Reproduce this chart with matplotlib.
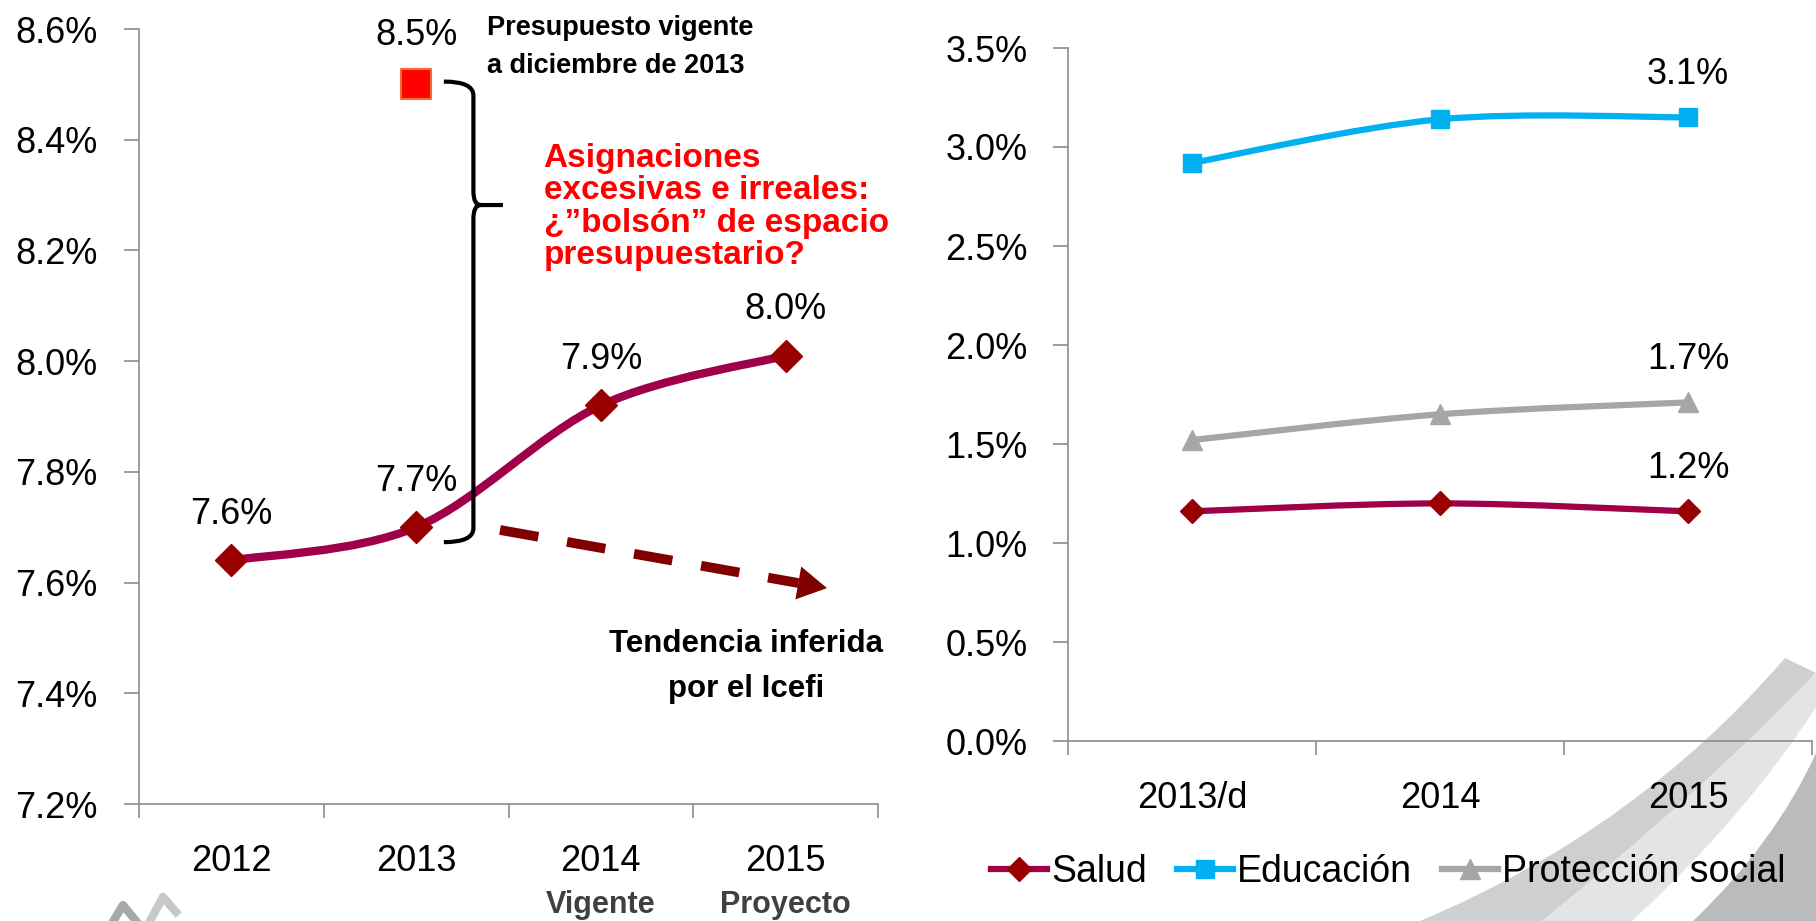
import matplotlib
matplotlib.use("Agg")
import matplotlib.pyplot as plt
from matplotlib.path import Path
from matplotlib.patches import PathPatch
from matplotlib.lines import Line2D
from matplotlib.ticker import FixedLocator, NullFormatter

plt.rcParams['font.family'] = ['Liberation Sans', 'DejaVu Sans']

# === Datos ===
anios_izq = ['2012', '2013', '2014', '2015']
sub_izq = ['', '', 'Vigente', 'Proyecto']
gasto_social = [7.64, 7.70, 7.92, 8.01]
etiquetas_izq = ['7.6%', '7.7%', '7.9%', '8.0%']
vigente_2013 = 8.50
etiqueta_vigente = '8.5%'

anios_der = ['2013/d', '2014', '2015']
series = ['Salud', 'Educación', 'Protección social']
salud = [1.16, 1.20, 1.16]
educacion = [2.92, 3.14, 3.15]
proteccion = [1.52, 1.65, 1.71]
etiquetas_der = ['1.2%', '3.1%', '1.7%']

COL_SALUD = '#A0004A'
COL_MARK = '#990000'
COL_EDU = '#00B0F0'
COL_PROT = '#A6A6A6'
GRIS_EJE = '#8C8C8C'
FS = 26

W, H = 1816, 921


def curva_suave(xs, ys):
    # curva tipo Excel (Catmull-Rom -> Bezier)
    n = len(xs)
    verts = [(xs[0], ys[0])]
    codes = [Path.MOVETO]
    for i in range(n - 1):
        a = i - 1 if i > 0 else i
        d = i + 2 if i + 2 < n else i + 1
        c1 = (xs[i] + (xs[i + 1] - xs[a]) / 6, ys[i] + (ys[i + 1] - ys[a]) / 6)
        c2 = (xs[i + 1] - (xs[d] - xs[i]) / 6, ys[i + 1] - (ys[d] - ys[i]) / 6)
        verts += [c1, c2, (xs[i + 1], ys[i + 1])]
        codes += [Path.CURVE4] * 3
    return Path(verts, codes)


def fig_px(x, y):
    return (x / W, 1 - y / H)


def estilo_ejes(ax, ncat):
    for s in ['top', 'right']:
        ax.spines[s].set_visible(False)
    for s in ['left', 'bottom']:
        ax.spines[s].set_color(GRIS_EJE)
        ax.spines[s].set_linewidth(1.2)
    ax.set_facecolor('none')
    ax.set_xlim(-0.5, ncat - 0.5)
    ax.xaxis.set_minor_locator(FixedLocator([k - 0.5 for k in range(ncat + 1)]))
    ax.xaxis.set_minor_formatter(NullFormatter())
    ax.tick_params(axis='x', which='major', length=0, labelsize=FS, pad=29)
    ax.tick_params(axis='x', which='minor', length=10, color=GRIS_EJE, width=1.2)
    ax.tick_params(axis='y', length=11, color=GRIS_EJE, width=1.2, labelsize=FS, pad=19)


def texto_lineas(ax, x, y0, dy, txt, **kw):
    # una línea por renglón, y0 = línea base del primer renglón
    for k, linea in enumerate(txt.split('\n')):
        ax.text(x, y0 - k * dy, linea, va='baseline', **kw)


fig = plt.figure(figsize=(W / 100, H / 100), dpi=100)

M, C3, L, CL = Path.MOVETO, Path.CURVE3, Path.LINETO, Path.CLOSEPOLY


# === Decoración gris (esquinas inferiores) ===
def banda(pts, codes, color):
    verts = [fig_px(*p) for p in pts]
    fig.patches.append(PathPatch(Path(verts, codes), transform=fig.transFigure,
                                 facecolor=color, edgecolor='none', zorder=-5))


banda([(1420, 921), (1637, 830), (1785, 658), (1816, 673), (1701, 793), (1542, 921), (1420, 921)],
      [M, C3, C3, L, C3, C3, CL], '#CFCFD1')
banda([(1816, 673), (1701, 793), (1542, 921), (1632, 921), (1746, 816), (1816, 707), (1816, 673)],
      [M, C3, C3, L, C3, C3, CL], '#E4E4E6')
banda([(1816, 753), (1775, 843), (1693, 921), (1816, 921), (1816, 753)],
      [M, C3, C3, L, CL], '#BBBBBD')
for xs_, ys_, c in [([108, 123, 136], [930, 905, 921], '#A8A8A8'),
                    ([150, 163, 176], [921, 897, 912], '#C8C8C8')]:
    fig.add_artist(Line2D([x / W for x in xs_], [1 - y / H for y in ys_],
                          transform=fig.transFigure, color=c, lw=6, zorder=-5))

# === Gráfica izquierda ===
ax1 = fig.add_axes([139 / W, 1 - 804 / H, (878 - 139) / W, (804 - 29) / H])
estilo_ejes(ax1, len(anios_izq))
ax1.set_ylim(7.2, 8.6)
ax1.set_yticks([7.2, 7.4, 7.6, 7.8, 8.0, 8.2, 8.4, 8.6])
ax1.set_yticklabels([f'{v:.1f}%' for v in ax1.get_yticks()])
x1 = list(range(len(anios_izq)))
ax1.set_xticks(x1)
ax1.set_xticklabels(anios_izq)

ax1.add_patch(PathPatch(curva_suave(x1, gasto_social), facecolor='none',
                        edgecolor=COL_SALUD, lw=6, capstyle='round', zorder=3))
ax1.plot(x1, gasto_social, ls='none', marker='D', ms=16, color=COL_MARK, zorder=4)
for xi, yi, t in zip(x1, gasto_social, etiquetas_izq):
    ax1.annotate(t, (xi, yi), xytext=(0, 26), textcoords='offset points',
                 ha='center', va='baseline', fontsize=FS)
for xi, t in zip(x1, sub_izq):
    if t:
        ax1.text(xi, -0.1406, t, transform=ax1.get_xaxis_transform(), ha='center',
                 va='baseline', fontsize=22, fontweight='bold', color='#404040')

# presupuesto vigente 2013
ax1.plot([1], [vigente_2013], ls='none', marker='s', ms=22, markerfacecolor='#FF0000',
         markeredgecolor='#F07030', markeredgewidth=1.5, zorder=4)
ax1.annotate(etiqueta_vigente, (1, vigente_2013), xytext=(0, 28), textcoords='offset points',
             ha='center', va='baseline', fontsize=FS)
texto_lineas(ax1, 1.384, 8.5897, 0.0686, 'Presupuesto vigente\na diciembre de 2013',
             fontsize=19.5, fontweight='bold', ha='left')

# llave
bx0, bx1, bx2 = 1.15, 1.31, 1.47
by0, bym, by1 = 8.505, 8.282, 7.673
r = 0.025
llave = Path([(bx0, by0), (bx1, by0), (bx1, by0 - r),
              (bx1, bym + r), (bx1, bym), (bx1 + 0.04, bym), (bx2, bym),
              (bx1 + 0.04, bym), (bx1, bym), (bx1, bym - r),
              (bx1, by1 + r), (bx1, by1), (bx0, by1)],
             [M, C3, C3, L, C3, C3, L, M, C3, C3, L, C3, C3])
ax1.add_patch(PathPatch(llave, facecolor='none', edgecolor='black', lw=3, zorder=5))

texto_lineas(ax1, 1.69, 8.351, 0.0587,
             'Asignaciones\nexcesivas e irreales:\n¿”bolsón” de espacio\npresupuestario?',
             color='#FF0000', fontsize=24, fontweight='bold', ha='left')

# flecha de tendencia
x_a, y_a = 1.454, 7.695
x_t, y_t = 3.224, 7.590
f = 29 / 332
x_h, y_h = x_t + (x_a - x_t) * f, y_t + (y_a - y_t) * f
ax1.plot([x_a, x_h], [y_a, y_h], color='#800000', lw=7, ls=(0, (4, 3)),
         dash_capstyle='butt', zorder=3)
ax1.annotate('', xy=(x_t, y_t), xytext=(x_h, y_h),
             arrowprops=dict(arrowstyle='-|>,head_length=1.05,head_width=0.6',
                             color='#800000', lw=0, mutation_scale=20,
                             shrinkA=0, shrinkB=0), zorder=3)
texto_lineas(ax1, 2.786, 7.475, 0.0813, 'Tendencia inferida\npor el Icefi',
             fontsize=22.5, fontweight='bold', ha='center')

# === Gráfica derecha ===
ax2 = fig.add_axes([1068 / W, 1 - 741 / H, (1812 - 1068) / W, (741 - 48) / H])
estilo_ejes(ax2, len(anios_der))
ax2.set_ylim(0, 3.5)
ax2.set_yticks([0, 0.5, 1.0, 1.5, 2.0, 2.5, 3.0, 3.5])
ax2.set_yticklabels([f'{v:.1f}%' for v in ax2.get_yticks()])
ax2.tick_params(axis='y', pad=18)
x2 = list(range(len(anios_der)))
ax2.set_xticks(x2)
ax2.set_xticklabels(anios_der)
ax2.tick_params(axis='x', which='major', pad=29)

marcas = ['D', 's', '^']
colores = [COL_SALUD, COL_EDU, COL_PROT]
col_marcas = [COL_MARK, COL_EDU, COL_PROT]
tam = [12, 13, 14]
handles = []
for vals, col, cm, mk, ms, lab in zip([salud, educacion, proteccion], colores, col_marcas,
                                      marcas, tam, etiquetas_der):
    ax2.add_patch(PathPatch(curva_suave(x2, vals), facecolor='none', edgecolor=col,
                            lw=4.5, capstyle='round', zorder=3))
    ax2.plot(x2, vals, ls='none', marker=mk, ms=ms, color=cm, zorder=4)
    ax2.annotate(lab, (x2[-1], vals[-1]), xytext=(0, 24), textcoords='offset points',
                 ha='center', va='baseline', fontsize=FS)
    handles.append(Line2D([], [], color=col, lw=4.5, marker=mk, ms=ms,
                          markerfacecolor=cm, markeredgecolor=cm))

fig.legend(handles, series, loc='center', bbox_to_anchor=(1388 / W, 1 - 872 / H), ncol=3,
           frameon=False, fontsize=27, handlelength=1.5, handletextpad=0.1,
           columnspacing=0.8)

fig.savefig('out.png', dpi=100)
